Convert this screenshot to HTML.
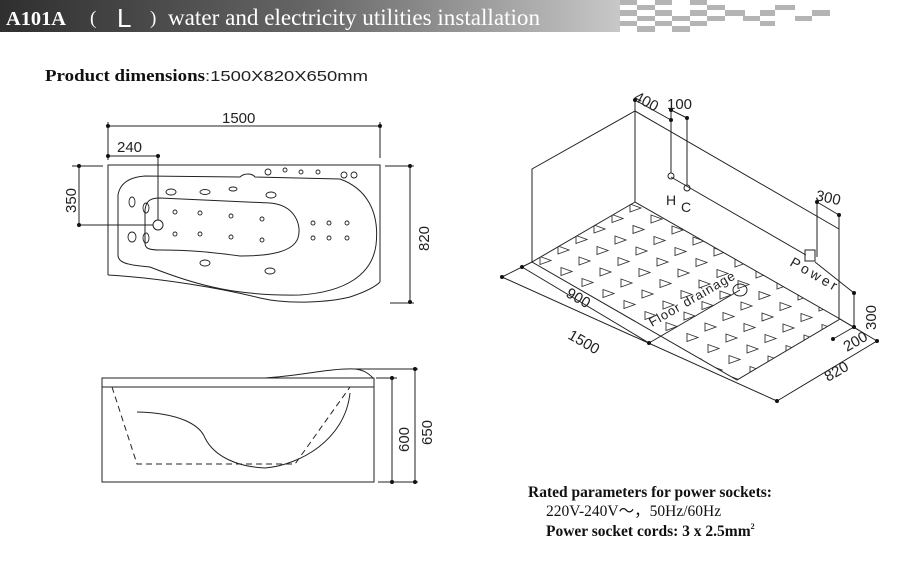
<!DOCTYPE html>
<html><head><meta charset="utf-8"><style>
html,body{margin:0;padding:0;background:#fff}
svg{display:block}
.s{font-family:"Liberation Serif",serif}
.a{font-family:"Liberation Sans","DejaVu Sans",sans-serif}
</style></head><body>
<svg id="sv" width="909" height="573" viewBox="0 0 909 573" xmlns="http://www.w3.org/2000/svg">
<defs>
<linearGradient id="hg" x1="0" x2="1" y1="0" y2="0">
<stop offset="0" stop-color="#2f2f2f"/><stop offset="0.5" stop-color="#666"/><stop offset="1" stop-color="#c8c8c8"/>
</linearGradient>
<clipPath id="fc"><polygon points="635,202 840,319 737,380 532,262"/></clipPath>
</defs>
<rect x="0" y="0" width="620" height="32" fill="url(#hg)"/>
<g fill="#b4b4b4">
<rect x="620" y="0" width="17" height="5"/><rect x="655" y="0" width="17" height="5"/><rect x="690" y="0" width="17" height="5"/>
<rect x="637" y="5" width="18" height="5"/><rect x="707" y="5" width="18" height="5"/><rect x="775" y="5" width="20" height="5"/>
<rect x="620" y="10" width="17" height="6"/><rect x="655" y="10" width="17" height="6"/><rect x="690" y="10" width="17" height="6"/><rect x="725" y="10" width="20" height="6"/><rect x="760" y="10" width="15" height="6"/><rect x="812" y="10" width="18" height="6"/>
<rect x="637" y="16" width="18" height="5"/><rect x="672" y="16" width="18" height="5"/><rect x="707" y="16" width="18" height="5"/><rect x="743" y="16" width="17" height="5"/><rect x="795" y="16" width="17" height="5"/>
<rect x="620" y="21" width="17" height="5"/><rect x="655" y="21" width="17" height="5"/><rect x="690" y="21" width="17" height="5"/><rect x="760" y="21" width="15" height="5"/>
<rect x="637" y="26" width="18" height="6"/><rect x="672" y="26" width="18" height="6"/>
</g>
<text x="6" y="25" class="s" fill="#fff" font-size="20" font-weight="bold" textLength="60" lengthAdjust="spacingAndGlyphs">A101A</text>
<text x="90" y="24" class="s" fill="#fff" font-size="19">(</text>
<text x="117" y="27" class="a" fill="#fff" font-size="26">L</text>
<text x="150" y="24" class="s" fill="#fff" font-size="19">)</text>
<text x="168" y="25" class="s" fill="#fff" font-size="23" textLength="372" lengthAdjust="spacingAndGlyphs">water and electricity utilities installation</text>

<text x="45" y="81" class="s" font-size="17" font-weight="bold" fill="#111" textLength="160" lengthAdjust="spacingAndGlyphs">Product dimensions</text>
<text x="205" y="81" class="a" font-size="15" fill="#222" textLength="163" lengthAdjust="spacingAndGlyphs">:1500X820X650mm</text>

<g stroke="#222" stroke-width="1" fill="none">
<path d="M108,275 L108,165 L380,165 L380,282"/>
<path d="M108,275 C160,278 220,288 260,298 C290,305 330,302 350,297 C365,292 375,287 380,282"/>
<path d="M118,255 L118,195 C120,183 130,177 145,176 L240,177 C244,173 252,173 255,177 L340,179 C365,188 380,210 376,245 C372,275 345,292 300,295 C240,296 200,287 150,267 C125,265 118,262 118,255 Z"/>
<path d="M145,243 L145,210 C146,201 150,198 160,198 L270,203 C295,205 302,225 298,238 C293,252 270,256 240,256 C210,252 190,250 160,250 C148,250 145,248 145,243 Z"/>
<circle cx="158" cy="225" r="5"/>
<g stroke-width="0.9">
<circle cx="175" cy="212" r="2"/><circle cx="200" cy="213" r="2"/><circle cx="231" cy="216" r="2"/><circle cx="262" cy="219" r="2"/>
<circle cx="175" cy="234" r="2"/><circle cx="200" cy="234" r="2"/><circle cx="231" cy="237" r="2"/><circle cx="262" cy="240" r="2"/>
<circle cx="313" cy="223" r="2"/><circle cx="329" cy="223" r="2"/><circle cx="347" cy="223" r="2"/>
<circle cx="313" cy="238" r="2"/><circle cx="329" cy="238" r="2"/><circle cx="347" cy="238" r="2"/>
<circle cx="268" cy="172" r="3"/><circle cx="285" cy="170" r="2"/><circle cx="301" cy="172" r="2"/><circle cx="318" cy="172" r="2"/>
<circle cx="344" cy="175" r="3"/><circle cx="354" cy="175" r="3"/>
<ellipse cx="132" cy="202" rx="3" ry="5"/><ellipse cx="146" cy="208" rx="3" ry="5"/>
<ellipse cx="132" cy="237" rx="4" ry="5"/><ellipse cx="146" cy="238" rx="3" ry="5"/>
<ellipse cx="171" cy="192" rx="5" ry="3"/><ellipse cx="205" cy="192" rx="5" ry="2.5"/><ellipse cx="233" cy="189" rx="4" ry="2"/><ellipse cx="271" cy="195" rx="5" ry="3"/>
<ellipse cx="205" cy="263" rx="5" ry="3"/><ellipse cx="270" cy="271" rx="5" ry="3"/>
</g>
<path d="M108,126 L380,126 M108,122 L108,160 M380,122 L380,158 M108,156 L158,156 L158,220 M79,166 L79,225 L153,225 M72,166 L103,166 M385,166 L414,166 M410,166 L410,302 M390,303 L414,303"/>
</g>
<g fill="#111">
<circle cx="108" cy="126" r="2"/><circle cx="380" cy="126" r="2"/><circle cx="108" cy="156" r="2"/><circle cx="158" cy="156" r="2"/>
<circle cx="79" cy="166" r="2"/><circle cx="79" cy="225" r="2"/><circle cx="410" cy="166" r="2"/><circle cx="410" cy="302" r="2"/>
</g>
<g class="a" font-size="15" fill="#222">
<text x="222" y="123">1500</text>
<text x="117" y="152">240</text>
<text transform="translate(76,213) rotate(-90)">350</text>
<text transform="translate(429,251) rotate(-90)">820</text>
</g>

<g stroke="#222" stroke-width="1" fill="none">
<rect x="102" y="378" width="272" height="104"/>
<line x1="102" y1="387" x2="374" y2="387"/>
<path d="M265,378 C300,376 330,368 355,369 C365,370 370,375 373,378"/>
<path d="M112,387 L137,464 L295,464 L350,387" stroke-dasharray="6,4"/>
<path d="M137,412 C180,413 200,425 205,438 C215,458 240,467 265,468 C300,465 345,440 350,393"/>
<path d="M376,378 L397,378 M392,378 L392,482 M378,482 L418,482 M355,369 L418,369 M415,369 L415,482"/>
</g>
<g fill="#111"><circle cx="392" cy="378" r="2"/><circle cx="392" cy="482" r="2"/><circle cx="415" cy="369" r="2"/><circle cx="415" cy="482" r="2"/></g>
<g class="a" font-size="15" fill="#222">
<text transform="translate(409,452) rotate(-90)">600</text>
<text transform="translate(432,445) rotate(-90)">650</text>
</g>

<g id="tri" clip-path="url(#fc)" stroke="#333" stroke-width="0.9" fill="none"></g>
<g stroke="#222" stroke-width="1" fill="none">
<path d="M532,262 L532,169 L635,111 L839,229 M635,100 L635,202 L840,319 L737,380 L532,262 L635,202"/>
<path d="M635,100 L671,120 M671,110 L687,118 M671,110 L671,173 M687,118 L687,185 M671,177 L806,255"/>
<circle cx="671" cy="176" r="3"/><circle cx="687" cy="188" r="3"/>
<path d="M817,202 L839,215 M817,202 L817,257 M839,215 L839,319"/>
<rect x="805" y="250" width="10" height="11"/>
<path d="M815,262 L854,293 M854,293 L854,327 M840,319 L860,331"/>
<path d="M522,267 L649,343 M532,262 L522,267 M649,343 L740,290 M502,277 L777,401 M532,262 L502,277 M777,401 L877,341 M840,319 L877,341 M833,339 L854,327"/>
<ellipse cx="740" cy="290" rx="7" ry="6"/>
</g>
<g fill="#111">
<circle cx="635" cy="100" r="2"/><circle cx="671" cy="110" r="2"/><circle cx="671" cy="120" r="2"/><circle cx="687" cy="118" r="2"/>
<circle cx="817" cy="202" r="2"/><circle cx="839" cy="215" r="2"/><circle cx="854" cy="293" r="2"/><circle cx="854" cy="327" r="2"/>
<circle cx="522" cy="267" r="2"/><circle cx="649" cy="343" r="2"/><circle cx="502" cy="277" r="2"/><circle cx="777" cy="401" r="2"/>
<circle cx="877" cy="341" r="2"/><circle cx="833" cy="339" r="2"/>
</g>
<g class="a" font-size="15" fill="#222">
<text transform="translate(633,100) rotate(28)">400</text>
<text x="667" y="109">100</text>
<text x="815" y="200" transform="rotate(12 815 200)">300</text>
<text x="666" y="205" font-size="14">H</text>
<text x="681" y="212" font-size="14">C</text>
<text transform="translate(789,265) rotate(30)" font-size="14" letter-spacing="3">Power</text>
<text transform="translate(652,327) rotate(-30)" font-size="13" letter-spacing="1">Floor drainage</text>
<text transform="translate(565,296) rotate(30)">900</text>
<text transform="translate(567,338) rotate(30)">1500</text>
<text transform="translate(828,382) rotate(-30)">820</text>
<text transform="translate(847,352) rotate(-30)">200</text>
<text transform="translate(876,330) rotate(-90)">300</text>
</g>

<g class="s" font-size="15.5" fill="#111">
<text x="528" y="497" font-weight="bold">Rated parameters for power sockets:</text>
<text x="546" y="516">220V-240V～，50Hz/60Hz</text>
<text x="546" y="536" font-weight="bold">Power socket cords: 3 x 2.5mm<tspan font-size="8" dy="-7">2</tspan></text>
</g>
</svg>
<script>
var g=document.getElementById('tri'),s='';
for(var i=-2;i<12;i++){for(var j=-2;j<14;j++){
var x=635+i*(-18)+j*21, y=208+i*10.5+j*11;
s+='<polygon points="'+(x-5)+','+(y-4)+' '+(x+6)+','+y+' '+(x-5)+','+(y+4)+'"/>';}}
g.innerHTML=s;
</script>
</body></html>
